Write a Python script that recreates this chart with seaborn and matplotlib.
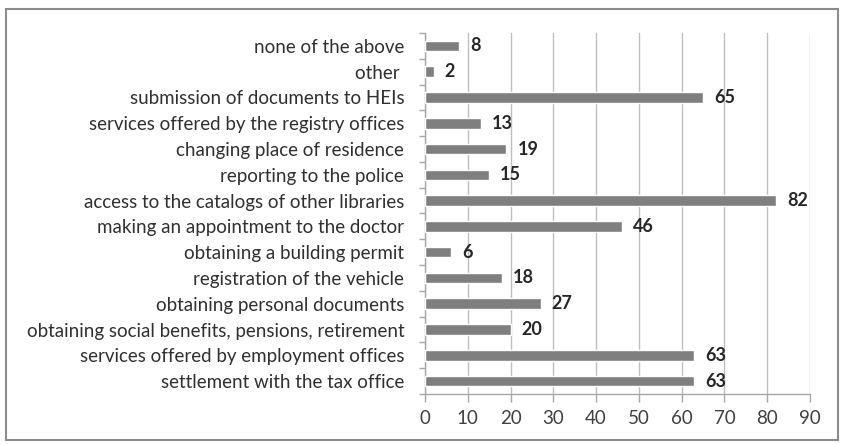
import matplotlib
matplotlib.use("Agg")
import matplotlib.pyplot as plt
import seaborn as sns
import pandas as pd
from matplotlib.patches import Rectangle
from matplotlib.ticker import FixedLocator

categories = [
    "none of the above",
    "other ",
    "submission of documents to HEIs",
    "services offered by the registry offices",
    "changing place of residence",
    "reporting to the police",
    "access to the catalogs of other libraries",
    "making an appointment to the doctor",
    "obtaining a building permit",
    "registration of the vehicle",
    "obtaining personal documents",
    "obtaining social benefits, pensions, retirement",
    "services offered by employment offices",
    "settlement with the tax office",
]
values = [8, 2, 65, 13, 19, 15, 82, 46, 6, 18, 27, 20, 63, 63]
xticks = [0, 10, 20, 30, 40, 50, 60, 70, 80, 90]

sns.set_theme(style="white")
plt.rcParams['font.family'] = ['Lato', 'DejaVu Sans']

df = pd.DataFrame({"category": categories, "value": values})

fig = plt.figure(figsize=(8.41, 4.44), dpi=100)
ax = fig.add_axes([0.5054, 0.1126, 0.9631 - 0.5054, 0.9257 - 0.1126])

sns.barplot(data=df, y="category", x="value", orient="h", color="#7f7f7f",
            saturation=1, width=0.41, ax=ax, zorder=3)

ax.set_xlim(0, 90)
ax.set_ylim(len(categories) - 0.5, -0.5)
ax.set_xticks(xticks)
ax.set_xticklabels([str(t) for t in xticks], fontsize=13.5, color="#404040")
ax.set_xlabel("")
ax.set_ylabel("")
ax.tick_params(axis="y", which="major", length=0, labelsize=13.5, labelcolor="#303030", pad=15)
ax.yaxis.set_minor_locator(FixedLocator([i - 0.5 for i in range(len(categories) + 1)]))
ax.tick_params(axis="y", which="minor", length=4.5, color="#a6a6a6", width=1, left=True)
ax.tick_params(axis="x", which="major", length=5.5, color="#a6a6a6", width=1, bottom=True, pad=6)

ax.grid(axis="x", color="#bfbfbf", linewidth=1, zorder=0)
ax.set_axisbelow(True)
for s in ["top", "right"]:
    ax.spines[s].set_visible(False)
for s in ["left", "bottom"]:
    ax.spines[s].set_color("#a6a6a6")
    ax.spines[s].set_linewidth(1)

for i, v in enumerate(values):
    ax.annotate(str(v), xy=(v, i), xytext=(8, 0), textcoords="offset points",
                va="center", ha="left", fontsize=13, fontweight="bold", color="#262626")

fig.patches.append(Rectangle((6 / 841, 4 / 444), 832 / 841, 431 / 444, transform=fig.transFigure,
                             fill=False, edgecolor="#8c8c8c", linewidth=1.5))

fig.savefig("out.png", dpi=100)
